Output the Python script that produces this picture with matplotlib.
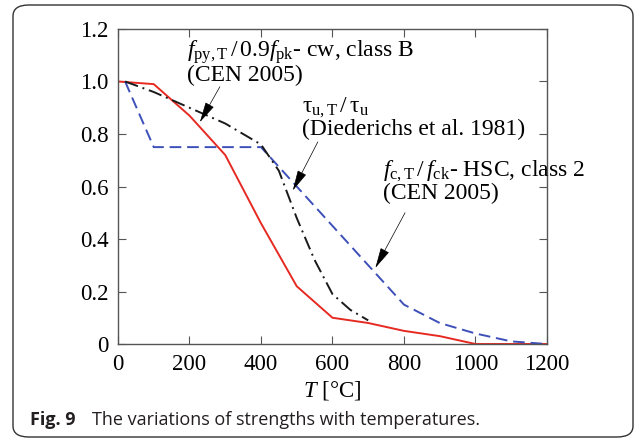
import matplotlib.pyplot as plt
from matplotlib.patches import FancyBboxPatch

plt.rcParams['font.family'] = 'Liberation Serif'
plt.rcParams['mathtext.fontset'] = 'custom'
plt.rcParams['mathtext.rm'] = 'Liberation Serif'
plt.rcParams['mathtext.it'] = 'Liberation Serif:italic'
plt.rcParams['mathtext.bf'] = 'Liberation Serif:bold'

# prestressing steel, cold worked, class B (CEN 2005)
steel_T = [0, 100, 200, 300, 400, 500, 600, 700, 800, 900, 1000, 1100, 1200]
steel_k = [1.0, 0.99, 0.87, 0.72, 0.46, 0.22, 0.10, 0.08, 0.05, 0.03, 0.0, 0.0, 0.0]

# high strength concrete, class 2 (CEN 2005)
hsc_T = [20, 100, 250, 400, 500, 600, 700, 800, 900, 1000, 1100, 1200]
hsc_k = [1.0, 0.75, 0.75, 0.75, 0.60, 0.45, 0.30, 0.15, 0.08, 0.04, 0.01, 0.0]

# bond strength (Diederichs et al. 1981)
bond_T = [20, 100, 200, 300, 400, 450, 500, 550, 600, 650, 700]
bond_k = [1.0, 0.96, 0.90, 0.84, 0.76, 0.66, 0.48, 0.32, 0.19, 0.13, 0.09]

fig = plt.figure(figsize=(6.37, 4.42), dpi=100)
ax = fig.add_axes([0.1852, 0.2217, 0.6735, 0.7127])

ax.plot(steel_T, steel_k, color='#e62a22', lw=1.4)
ax.plot(hsc_T, hsc_k, color='#3d4fb8', lw=1.4, dashes=(6, 3))
ax.plot(bond_T, bond_k, color='#1a1a1a', lw=1.4, dashes=(7, 2.5, 1, 2.5))

ax.set_xlim(0, 1200)
ax.set_ylim(0, 1.2)
ax.set_xticks([0, 200, 400, 600, 800, 1000, 1200])
ax.set_yticks([0, 0.2, 0.4, 0.6, 0.8, 1.0, 1.2])
ax.set_yticklabels(['0', '0.2', '0.4', '0.6', '0.8', '1.0', '1.2'])
ax.tick_params(direction='in', top=True, right=True, length=6, width=0.8,
               color='#555555', labelsize=16.5, pad=7)
for s in ax.spines.values():
    s.set_color('#555555')
    s.set_linewidth(1.0)
ax.set_xlabel(r'$\mathit{T}$ [°C]', fontsize=16.5, labelpad=3)

fs = 17
ax.text(193, 1.165, r'$\mathit{f}_{\mathrm{py,T}}\,/\,0.9\mathit{f}_{\mathrm{pk}}$' + '- cw, class B\n(CEN 2005)',
        fontsize=fs, ha='left', va='top', linespacing=0.95)
ax.text(514, 0.945, r'$\mathrm{\tau}_{\mathrm{u,T}}\,/\,\mathrm{\tau}_{\mathrm{u}}$' + '\n(Diederichs et al. 1981)',
        fontsize=fs, ha='left', va='top', linespacing=0.95)
ax.text(740, 0.705, r'$\mathit{f}_{\mathrm{c,T}}\,/\,\mathit{f}_{\mathrm{ck}}$' + '- HSC, class 2\n(CEN 2005)',
        fontsize=fs, ha='left', va='top', linespacing=0.95)

arrow = dict(arrowstyle='-|>,head_length=1.3,head_width=0.3', color='black',
             lw=0.5, shrinkA=0, shrinkB=0)
ax.annotate('', xy=(229, 0.845), xytext=(285, 0.98), arrowprops=arrow)
ax.annotate('', xy=(489, 0.585), xytext=(559, 0.77), arrowprops=arrow)
ax.annotate('', xy=(720, 0.29), xytext=(803, 0.50), arrowprops=arrow)

box = FancyBboxPatch((13 / 637, 5 / 442), 620 / 637, 432 / 442,
                     boxstyle='round,pad=0,rounding_size=0.025',
                     transform=fig.transFigure, fill=False,
                     edgecolor='#333333', lw=1.0)
fig.patches.append(box)

fig.text(30 / 637, 1 - 425 / 442, 'Fig. 9', family='Open Sans', weight='bold',
         fontsize=13, va='baseline', color='#231f20')
fig.text(92 / 637, 1 - 425 / 442, 'The variations of strengths with temperatures.',
         family='Open Sans', fontsize=13, va='baseline', color='#231f20')

fig.savefig('out.png', dpi=100)
